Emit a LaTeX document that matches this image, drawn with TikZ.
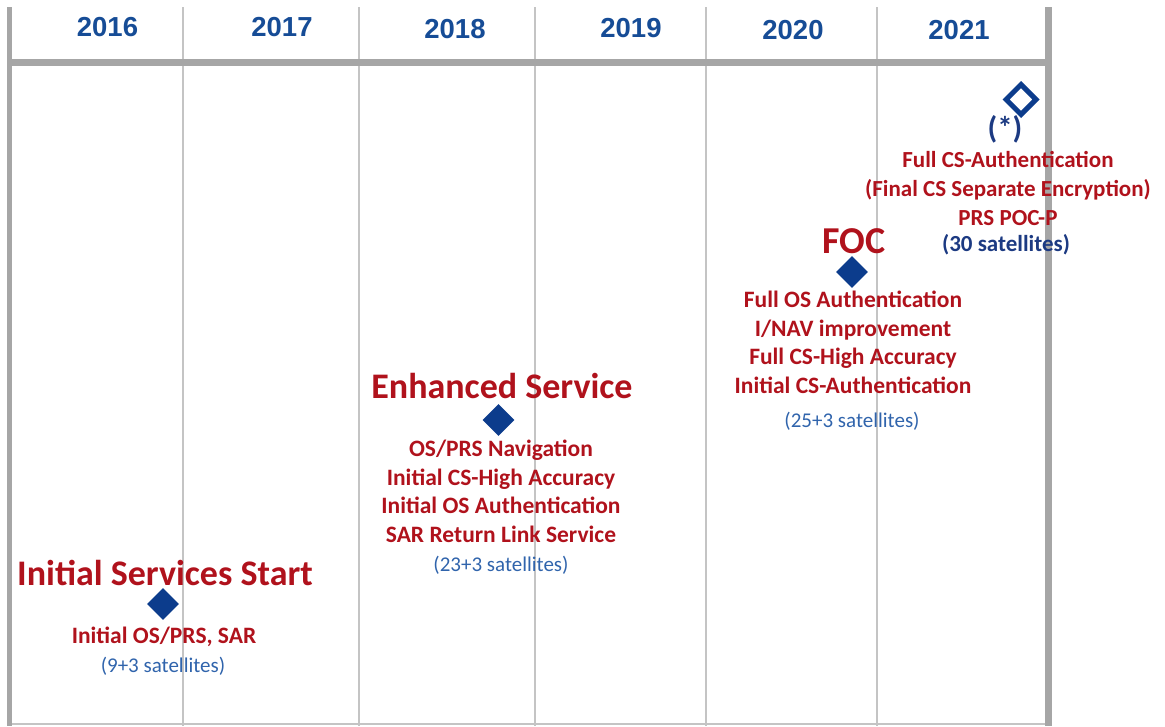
\documentclass[tikz,border=0pt]{standalone}
\usepackage{fontspec}
\setmainfont{Carlito}
\newfontfamily\yearfont{Liberation Sans}
\usetikzlibrary{positioning,shapes.geometric}

\definecolor{rulegray}{RGB}{166,166,166}
\definecolor{thingray}{RGB}{196,196,196}
\definecolor{yearblue}{RGB}{22,76,150}
\definecolor{milered}{RGB}{176,18,28}
\definecolor{markblue}{RGB}{12,60,140}
\definecolor{satblue}{RGB}{48,100,172}
\definecolor{darkblue}{RGB}{28,58,130}

\begin{document}
\begin{tikzpicture}[x=1pt, y=-1pt,
    thickrule/.style={rulegray, line width=7pt},
    thinrule/.style={thingray, line width=1.8pt},
    year/.style={font=\yearfont\bfseries\fontsize{27.5}{30}\selectfont, text=yearblue, anchor=base, inner sep=0pt},
    title/.style={font=\bfseries\fontsize{36}{40}\selectfont, text=milered, anchor=base, inner sep=0pt},
    items/.style={font=\bfseries\fontsize{23.5}{28.5}\selectfont, text=milered, align=center, anchor=base, inner sep=0pt},
    sats/.style={font=\fontsize{21}{25}\selectfont, text=satblue, anchor=base, inner sep=0pt},
    milestone/.style={diamond, fill=markblue, minimum width=32pt, minimum height=32pt, inner sep=0pt},
    future/.style={diamond, draw=markblue, line width=5pt, minimum width=32pt, minimum height=32pt, inner sep=0pt}]

    \useasboundingbox (0,0) rectangle (1165,726);

    % grid
    \foreach \x in {183,359,535,706,877}
        \draw[thinrule] (\x,7) -- (\x,726);
    \draw[thingray, line width=1.5pt] (10,724) -- (1046,724);
    \draw[thickrule, line width=5pt] (9.5,7) -- (9.5,726);
    \draw[thickrule] (1048,7) -- (1048,726);
    \draw[thickrule] (7,62) -- (1048,62);

    % years
    \foreach \x/\yb/\yr in {107.5/36/2016, 282/36/2017, 455/38/2018, 631/37/2019, 793/39/2020, 959/39/2021}
        \node[year] (y\yr) at (\x,\yb) {\yr};

    % 2016 (base of a multi-line node = its last line)
    \node[milestone] (iss) at (163,604) {};
    \node[title] (isstitle) at (165,585) {Initial Services Start};
    \node[items] (issitems) at (164,643) {Initial OS/PRS, SAR};
    \node[sats] (isssats) at (163,672) {(9+3 satellites)};

    % 2018
    \node[milestone] (es) at (498.5,420) {};
    \node[title] (estitle) at (502,398) {Enhanced Service};
    \node[items] (esitems) at (501,542) {OS/PRS Navigation\\Initial CS-High Accuracy\\Initial OS Authentication\\SAR Return Link Service};
    \node[sats] (essats) at (501,571) {(23+3 satellites)};

    % 2020
    \node[milestone] (foc) at (852,272) {};
    \node[title, font=\bfseries\fontsize{38}{42}\selectfont] (foctitle) at (854,253) {FOC};
    \node[items] (focitems) at (853,393) {Full OS Authentication\\I/NAV improvement\\Full CS-High Accuracy\\Initial CS-Authentication};
    \node[sats] (focsats) at (852,427) {(25+3 satellites)};

    % 2021
    \node[future] (fut) at (1021,99.5) {};
    \node[sats, font=\bfseries\fontsize{31}{34}\selectfont, text=darkblue] (futstar) at (1005,138) {(*)};
    \node[items, font=\bfseries\fontsize{23}{29}\selectfont] (futitems) at (1008,225) {Full CS-Authentication\\(Final CS Separate Encryption)\\PRS POC-P};
    \node[sats, font=\bfseries\fontsize{23}{28}\selectfont, text=darkblue] (futsats) at (1006,251) {(30 satellites)};
\end{tikzpicture}
\end{document}
